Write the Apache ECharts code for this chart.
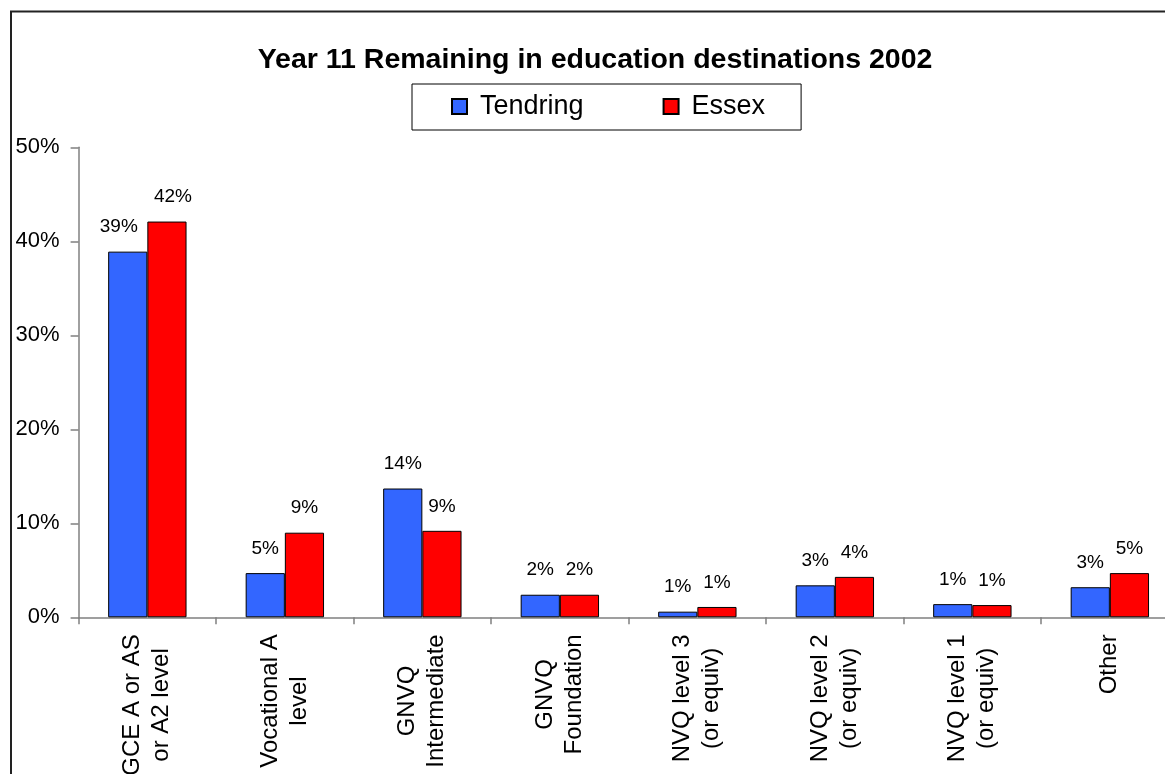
<!DOCTYPE html>
<html>
<head>
<meta charset="utf-8">
<script src="https://cdn.jsdelivr.net/npm/echarts@6/dist/echarts.min.js"></script>
<style>
  html, body { margin: 0; padding: 0; background: #fff; }
  #chart { width: 1165px; height: 774px; }
</style>
</head>
<body>
<div id="chart"></div>
<script>
const titleText = 'Year 11 Remaining in education destinations 2002';
const categories = [
  'GCE A or AS\nor A2 level',
  'Vocational A\nlevel',
  'GNVQ\nIntermediate',
  'GNVQ\nFoundation',
  'NVQ level 3\n(or equiv)',
  'NVQ level 2\n(or equiv)',
  'NVQ level 1\n(or equiv)',
  'Other'
];
const seriesNames = ['Tendring', 'Essex'];
const tendring = [38.9, 4.7, 13.7, 2.4, 0.6, 3.4, 1.4, 3.2];
const essex = [42.1, 9.0, 9.2, 2.4, 1.1, 4.3, 1.3, 4.7];
const yTicks = { min: 0, max: 50, interval: 10 };

const FONT = 'Liberation Sans, Arial, sans-serif';
const chart = echarts.init(document.getElementById('chart'));

function labelData(arr, firstOffset) {
  return arr.map((v, i) => i === 0 ? { value: v, label: { offset: firstOffset } } : v);
}

const barLabel = {
  show: true,
  position: 'top',
  distance: 15,
  fontSize: 19,
  fontFamily: FONT,
  color: '#000',
  formatter: p => Math.round(p.value) + '%'
};

chart.setOption({
  backgroundColor: '#fff',
  animation: false,
  title: {
    text: titleText,
    left: 590,
    top: 41,
    textAlign: 'center',
    textStyle: { fontSize: 28.5, fontWeight: 'bold', fontFamily: FONT, color: '#000' }
  },
  legend: {
    data: seriesNames,
    left: 412,
    top: 84,
    padding: [9, 36, 10, 39],
    itemWidth: 15,
    itemHeight: 15,
    itemGap: 79,
    icon: 'rect',
    borderColor: '#000',
    borderWidth: 1,
    backgroundColor: '#fff',
    textStyle: { fontSize: 27, fontFamily: FONT, color: '#000', padding: [0, 0, 0, 8] }
  },
  graphic: [{
    type: 'rect',
    shape: { x: 11, y: 11.5, width: 1300, height: 900 },
    style: { fill: 'none', stroke: '#222', lineWidth: 2 },
    silent: true,
    z: -1
  }],
  grid: { left: 78.6, right: -13.6, top: 147.3, bottom: 156.7, containLabel: false, outerBoundsMode: 'none' },
  xAxis: {
    type: 'category',
    data: categories,
    axisLine: { lineStyle: { color: '#808080', width: 1.5 } },
    axisTick: { show: true, alignWithLabel: false, length: 7, lineStyle: { color: '#808080', width: 1.5 } },
    axisLabel: {
      interval: 0,
      rotate: 90,
      margin: 17,
      color: '#000',
      fontFamily: FONT,
      fontSize: 24,
      formatter: v => v.split('\n').map(s => '{c|' + s + '}').join('\n'),
      rich: { c: { align: 'center', fontSize: 24, lineHeight: 29, fontFamily: FONT, color: '#000' } }
    }
  },
  yAxis: {
    type: 'value',
    min: yTicks.min,
    max: yTicks.max,
    interval: yTicks.interval,
    splitLine: { show: false },
    axisLine: { show: true, lineStyle: { color: '#808080', width: 1.5 } },
    axisTick: { show: true, length: 8, lineStyle: { color: '#808080', width: 1.5 } },
    axisLabel: { formatter: '{value}%', fontSize: 22, fontFamily: FONT, color: '#000', margin: 19 }
  },
  series: [
    {
      name: seriesNames[0],
      type: 'bar',
      data: labelData(tendring, [-9, 0]),
      barGap: '0%',
      barCategoryGap: '43%',
      itemStyle: { color: '#3366FF', borderColor: '#000', borderWidth: 1 },
      label: barLabel
    },
    {
      name: seriesNames[1],
      type: 'bar',
      data: labelData(essex, [6, 0]),
      barGap: '0%',
      barCategoryGap: '43%',
      itemStyle: { color: '#FF0000', borderColor: '#000', borderWidth: 1 },
      label: barLabel
    }
  ]
});
</script>
</body>
</html>
